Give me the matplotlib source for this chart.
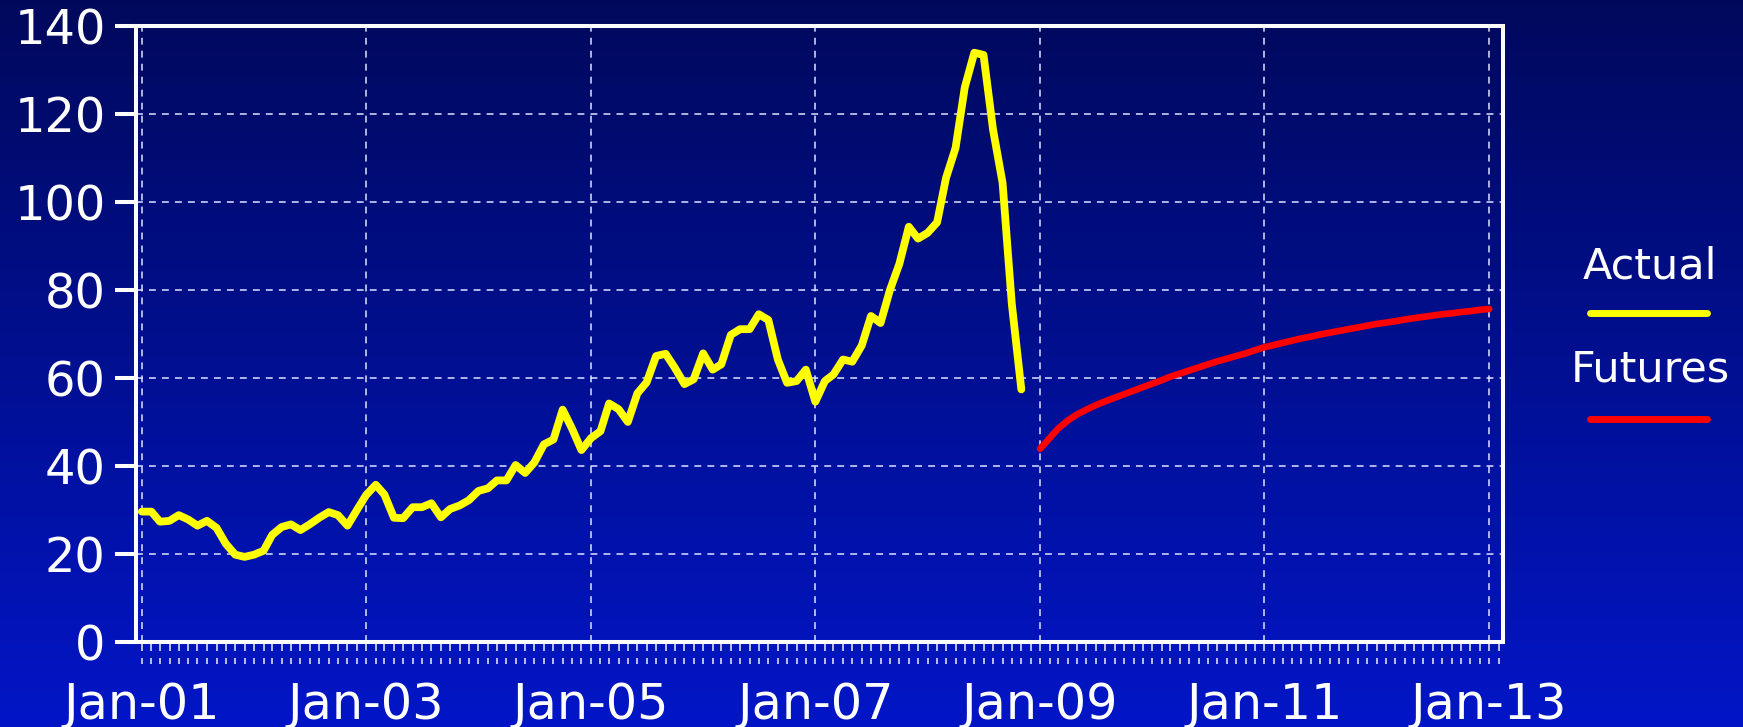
import numpy as np
import pandas as pd
import matplotlib
matplotlib.use("Agg")
import matplotlib.pyplot as plt
import matplotlib.dates as mdates
from matplotlib.lines import Line2D

# Preço mensal (Actual) de Jan-01 a Nov-08
actual = [
    29.6, 29.6, 27.3, 27.5, 28.8, 27.8, 26.4, 27.5, 25.9, 22.3, 19.8, 19.3,   # 2001
    19.8, 20.7, 24.3, 26.1, 26.7, 25.4, 26.7, 28.2, 29.5, 28.8, 26.4, 29.9,   # 2002
    33.4, 35.7, 33.5, 28.2, 28.1, 30.6, 30.6, 31.5, 28.3, 30.2, 31.0, 32.2,   # 2003
    34.3, 34.9, 36.7, 36.7, 40.2, 38.4, 40.8, 44.9, 46.0, 52.8, 48.4, 43.6,   # 2004
    46.3, 47.9, 54.2, 52.9, 50.0, 56.5, 59.0, 65.0, 65.5, 62.3, 58.6, 59.7,   # 2005
    65.6, 61.9, 63.1, 69.8, 71.1, 71.1, 74.5, 73.2, 64.2, 58.9, 59.3, 61.9,   # 2006
    54.6, 59.3, 60.8, 64.2, 63.7, 67.4, 74.1, 72.5, 80.1, 85.9, 94.4, 91.7,   # 2007
    93.0, 95.4, 105.5, 112.3, 126.1, 134.0, 133.5, 116.5, 104.4, 76.9, 57.4,  # 2008
]

# Curva de futuros de Jan-09 a Jan-13
futures = [
    43.9, 46.3, 48.5, 50.3, 51.7, 52.8, 53.8, 54.7, 55.5, 56.3, 57.1, 57.9,
    58.7, 59.5, 60.3, 61.0, 61.7, 62.4, 63.1, 63.8, 64.4, 65.0, 65.6, 66.3,
    67.0, 67.5, 68.0, 68.5, 69.0, 69.4, 69.9, 70.3, 70.7, 71.1, 71.5, 71.9,
    72.3, 72.6, 72.9, 73.3, 73.6, 73.9, 74.2, 74.5, 74.7, 75.0, 75.2, 75.5,
    75.7,
]

actual_dates = pd.date_range("2001-01-01", periods=len(actual), freq="MS")
futures_dates = pd.date_range("2009-01-01", periods=len(futures), freq="MS")

x_ticks = pd.to_datetime(["2001-01-01", "2003-01-01", "2005-01-01", "2007-01-01",
                          "2009-01-01", "2011-01-01", "2013-01-01"])
x_labels = ["Jan-01", "Jan-03", "Jan-05", "Jan-07", "Jan-09", "Jan-11", "Jan-13"]
y_ticks = [0, 20, 40, 60, 80, 100, 120, 140]

fig = plt.figure(figsize=(17.43, 7.27), dpi=100)

# Fundo em degradê azul
bg = fig.add_axes([0, 0, 1, 1], zorder=-10)
grad = np.linspace(0, 1, 256).reshape(-1, 1)
top = np.array([0.0, 0.035, 0.36])
bottom = np.array([0.01, 0.085, 0.78])
img = top + (bottom - top) * grad[:, :, None]
bg.imshow(img, aspect="auto", extent=[0, 1, 0, 1])
bg.axis("off")

ax = fig.add_axes([0.0782, 0.1173, 0.7843, 0.8465])
ax.set_facecolor("none")

ax.plot(actual_dates, actual, color="#ffff00", lw=5.6,
        solid_capstyle="round", solid_joinstyle="round", zorder=3)
ax.plot(futures_dates, futures, color="#ff0000", lw=4.8,
        solid_capstyle="round", solid_joinstyle="round", zorder=3)

xmin = mdates.date2num(pd.Timestamp("2000-12-14"))
xmax = mdates.date2num(pd.Timestamp("2013-02-16"))
ax.set_xlim(xmin, xmax)
ax.set_ylim(0, 140)
ax.set_yticks(y_ticks)
ax.set_xticks(x_ticks)
ax.set_xticklabels(x_labels)

# Grade tracejada
ax.grid(True, color="#dfe3ff", lw=1.1, linestyle=(0, (4.5, 4.0)), zorder=1)

for s in ax.spines.values():
    s.set_color("white")
    s.set_linewidth(2.9)

ax.tick_params(axis="y", colors="white", labelsize=34.5, length=15,
               width=2.9, pad=7)
ax.tick_params(axis="x", colors="white", labelsize=35.5, length=0, pad=28)

# Marcas mensais tracejadas abaixo do eixo
months = mdates.date2num(pd.date_range("2001-01-01", "2013-02-01", freq="MS"))
ax.vlines(months, -0.0037, -0.036, transform=ax.get_xaxis_transform(),
          colors="white", lw=1.2, linestyles=[(0, (4.2, 4.2))],
          alpha=0.85, clip_on=False)

# Legenda manual
fig.text(0.9467, 0.6176, "Actual", color="white", fontsize=31,
         ha="center", va="baseline")
fig.add_artist(Line2D([0.9122, 0.9793], [0.5699, 0.5699], color="#ffff00",
                      lw=5.0, solid_capstyle="round"))
fig.text(0.9467, 0.475, "Futures", color="white", fontsize=31,
         ha="center", va="baseline")
fig.add_artist(Line2D([0.9122, 0.9793], [0.4237, 0.4237], color="#ff0000",
                      lw=5.0, solid_capstyle="round"))

fig.savefig("out.png", dpi=100)
